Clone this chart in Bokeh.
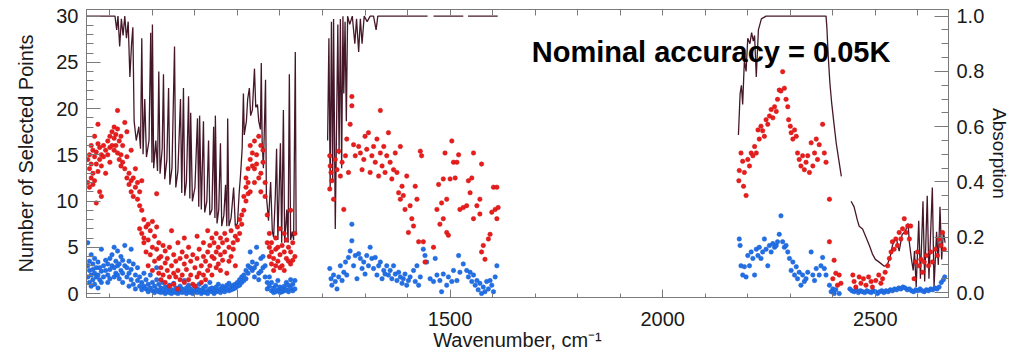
import math
from bokeh.plotting import figure
from bokeh.models import Range1d, LinearAxis, FixedTicker, PrintfTickFormatter, Label
from bokeh.embed import file_html
from bokeh.resources import INLINE

NAN = float("nan")

# ---------------- absorption (right axis, 0..1) ----------------
abs_seg1 = [(646,1.0),(700,1.0),(712,1.0),(716,0.95),(719,1.0),(723,0.89),(727,0.99),(731,0.93),(735,1.0),(739,0.92),
            (743,0.98),(747,0.78),(751,0.90),(754,0.96),(757,0.62),(762,0.55),(768,0.60),(772,0.52),(775,0.92),(778,0.50),
            (782,0.70),(786,0.49),(792,0.55),(796,0.94),(799,0.47),(800,0.97),(803,0.45),(808,0.55),(812,0.44),(815,0.80),
            (818,0.43),(823,0.52),(826,0.79),(829,0.41),(834,0.48),(838,0.74),(841,0.39),(846,0.45),(852,0.89),(855,0.38),
            (860,0.44),(866,0.70),(869,0.36),(873,0.74),(876,0.35),(880,0.40),(885,0.71),(888,0.34),(890,0.65),(894,0.33),
            (900,0.38),(906,0.63),(909,0.31),(911,0.64),(915,0.30),(920,0.62),(923,0.29),(928,0.33),(932,0.55),(935,0.28),
            (940,0.30),(944,0.60),(947,0.27),(948,0.64),(952,0.25),(956,0.30),(960,0.54),(963,0.24),(968,0.28),(972,0.39),
            (975,0.24),(977,0.63),(980,0.24),(985,0.27),(991,0.38),(995,0.24),(1000,0.25),(1004,0.36),(1007,0.42),(1011,0.52),
            (1014,0.72),(1016,0.57),(1021,0.62),(1024,0.70),(1028,0.74),(1031,0.64),(1035,0.66),(1040,0.81),(1043,0.67),(1047,0.68),
            (1050,0.62),(1054,0.59),(1056,0.83),(1058,0.55),(1061,0.45),(1066,0.77),(1068,0.35),(1073,0.26),(1078,0.40),(1082,0.22),
            (1085,0.20),(1089,0.35),(1092,0.52),(1095,0.19),(1101,0.54),(1104,0.18),(1108,0.66),(1111,0.18),(1116,0.30),(1119,0.18),
            (1122,0.79),(1125,0.19),(1129,0.22),(1132,0.19),(1136,0.87),(1138,0.21)]
abs_seg2 = [(1212,0.55),(1215,0.92),(1218,0.38),(1221,0.98),(1224,0.40),(1226,0.99),(1230,0.23),(1233,0.60),(1236,0.97),(1239,0.50),
            (1242,0.99),(1245,0.45),(1248,1.0),(1250,0.72),(1253,0.98),(1256,0.62),(1259,1.0),(1264,0.97),(1270,1.0),(1276,0.90),
            (1280,0.99),(1285,0.87),(1289,0.99),(1293,0.90),(1298,1.0),(1305,0.98),(1312,1.0),(1320,1.0),(1326,0.95),(1330,1.0),
            (1447,1.0),(1454,NAN),(1461,1.0),(1531,1.0),(1536,NAN),(1542,1.0),(1612,1.0)]
abs_seg3 = [(2178,0.57),(2182,0.72),(2185,0.75),(2188,0.68),(2192,0.84),(2196,0.80),(2200,0.92),(2205,0.90),(2209,0.94),(2213,0.91),
            (2216,0.93),(2220,0.78),(2225,0.95),(2232,0.99),(2243,1.0),(2384,1.0),(2386,0.96),(2389,0.86),(2393,0.76),(2397,0.69),
            (2402,0.62),(2408,0.54),(2414,0.48),(2420,0.42),(2432,NAN),(2443,0.33),(2450,0.31),(2458,0.26),(2462,0.24),(2470,0.23),
            (2478,0.20),(2486,0.17),(2493,0.14),(2500,0.12),(2509,0.11),(2521,0.095),(2528,0.10),(2535,0.13),(2540,0.17),(2549,0.20),
            (2553,0.17),(2556,0.15),(2563,0.21),(2570,0.22),(2577,0.25),(2580,0.18),(2585,0.12),(2589,0.08),(2592,0.15),(2596,0.02),
            (2602,0.26),(2606,0.05),(2612,0.33),(2616,0.04),(2622,0.35),(2626,0.05),(2634,0.38),(2638,0.02),(2644,0.22),(2648,0.10),
            (2652,0.31),(2656,0.12),(2660,0.22),(2664,0.18)]

# ---------------- red points: selected points (left axis) ----------------
red_band1 = [(648,[14.5,12.0]),(652,[15.0,11.5,13.5]),(656,[14.0,12.5,16.0]),(660,[15.5,13.0,11.8]),(664,[14.8,12.2,17.0]),
             (668,[15.3,14.0,9.8]),(672,[16.2,13.2,18.3]),(676,[14.5,11.0,15.8]),(680,[15.0,10.5,13.8]),(685,[16.0,14.8]),
             (690,[13.0,15.5]),(695,[16.5,15.0]),(700,[17.0,15.8,14.2]),(705,[16.0,17.5]),(710,[15.5,16.8,18.0]),
             (714,[17.2,16.0]),(718,[19.8,15.2,17.8]),(722,[16.5,14.5]),(726,[15.0,13.8,17.0]),(730,[14.2,16.0]),
             (735,[18.5,13.5]),(740,[17.5,12.5,14.8]),(745,[13.0,11.8]),(750,[12.2,11.0,15.5]),(755,[12.5,10.5]),
             (760,[11.5,13.5]),(765,[10.2,12.0]),(770,[9.5,11.0,7.0]),(775,[9.0,6.5,12.2]),(780,[8.0,6.0,5.5]),
             (785,[7.2,4.5]),(790,[7.5,5.8,3.0]),(795,[6.8,4.2]),(800,[7.8,5.0,2.5]),(805,[6.2,3.5]),(810,[10.8,7.2,4.8]),
             (815,[5.5,2.2,3.8]),(820,[4.0,2.8,1.5]),(825,[5.2,2.0]),(830,[3.3,1.2,4.6]),(835,[2.5,3.8]),(840,[1.8,5.0,0.8]),
             (845,[3.0,6.8]),(850,[2.2,4.2,1.0]),(855,[3.5,1.8]),(860,[5.5,2.5,0.5]),(865,[3.8,1.5]),(870,[2.0,4.5]),
             (875,[3.2,6.0,1.2]),(880,[2.6,4.0]),(885,[1.5,5.0]),(890,[3.5,2.0]),(895,[1.0,4.2]),(900,[2.8,0.8]),
             (905,[3.8,1.8,6.2]),(910,[2.2,4.8]),(915,[1.2,3.0]),(920,[2.0,4.0,5.5]),(925,[3.5,1.5]),(930,[4.5,2.5,6.8]),
             (935,[3.0,5.2]),(940,[2.0,6.0,4.0]),(945,[3.8,5.5]),(950,[2.8,4.5,6.5]),(955,[5.0,3.2]),(960,[4.2,6.0,2.5]),
             (965,[3.6,5.5]),(970,[6.5,4.5]),(975,[2.2,5.8]),(980,[5.0,3.5]),(985,[6.8,4.0]),(990,[4.8,5.5]),(995,[6.2,3.0]),
             (1000,[7.2,5.8]),(1005,[8.0,6.5]),(1010,[8.5,7.5]),(1015,[10.5,9.0]),(1020,[11.5,10.0,12.5]),
             (1025,[12.0,13.5,10.8]),(1030,[14.5,16.0,11.0]),(1035,[13.8,15.2]),(1040,[16.5,13.5,12.0]),(1045,[15.0,14.0]),
             (1050,[12.5,17.0]),(1055,[13.0,16.0,11.0]),(1060,[15.5,14.2]),(1065,[10.5,12.0]),(1070,[8.5,5.5]),
             (1075,[5.0,4.0,6.5]),(1080,[4.5,3.2,5.5]),(1085,[3.8,2.5]),(1090,[4.8,6.0,3.0]),(1095,[3.5,5.0]),
             (1100,[4.2,2.8,7.0]),(1105,[3.0,5.2]),(1110,[4.5,6.5,2.5]),(1115,[3.8,5.8]),(1120,[5.0,3.5]),
             (1125,[3.2,9.0,4.5]),(1130,[5.5,3.6]),(1135,[4.0,6.5])]
red_band2 = [(1217,[14.9,11.3]),(1218,[13.8]),(1220,[13.1]),(1222,[12.2]),(1226,[10.2]),(1230,[14.5]),(1234,[13.4]),
             (1238,[15.4]),(1242,[12.7]),(1246,[14.2]),(1250,[9.1]),(1254,[14.9]),(1257,[16.7]),(1261,[13.1]),(1265,[18.3]),
             (1269,[21.3,20.3]),(1273,[16.1]),(1277,[14.9]),(1285,[15.9]),(1289,[15.2]),(1293,[13.4]),(1297,[14.5]),
             (1300,[17.0]),(1304,[15.6]),(1308,[17.4]),(1312,[13.1]),(1316,[14.9]),(1320,[15.9]),(1324,[14.2]),(1328,[16.7]),
             (1332,[12.7]),(1336,[19.8,15.2]),(1340,[13.8]),(1344,[15.9]),(1347,[13.1]),(1351,[14.9]),(1355,[17.4]),
             (1359,[14.2]),(1363,[12.4]),(1367,[13.4]),(1371,[15.2]),(1375,[13.1]),(1379,[10.9]),(1383,[15.9,10.2]),
             (1387,[11.6]),(1390,[10.6]),(1394,[9.1]),(1398,[12.7]),(1402,[6.6]),(1406,[9.5]),(1410,[8.1]),(1414,[7.3]),
             (1418,[11.6]),(1422,[10.2]),(1426,[5.6]),(1430,[15.4]),(1433,[14.9]),(1437,[5.6]),(1441,[3.4]),(1461,[5.0]),
             (1469,[9.1]),(1473,[11.8]),(1476,[7.5]),(1480,[9.8]),(1484,[12.4,8.1]),(1488,[15.2]),(1492,[10.2,6.6]),
             (1496,[6.3]),(1500,[12.4]),(1504,[16.5]),(1508,[14.2]),(1512,[12.5]),(1516,[14.2]),(1520,[15.0]),(1523,[9.1]),
             (1531,[9.3]),(1539,[9.5]),(1543,[12.2]),(1547,[10.9]),(1551,[12.5]),(1555,[15.2,8.1]),(1563,[9.5]),
             (1570,[8.6,10.2]),(1574,[14.0,4.5]),(1578,[5.2]),(1582,[3.7]),(1590,[5.9]),(1594,[6.4]),(1598,[8.8]),
             (1602,[11.5]),(1606,[9.1]),(1610,[11.5,8.1]),(1613,[9.3])]
red_band3 = [(2179,[12.2]),(2180,[13.3]),(2184,[15.2]),(2188,[14.3]),(2190,[11.6]),(2192,[13.1]),(2196,[10.6]),(2200,[14.5]),
             (2204,[13.8]),(2208,[15.2]),(2212,[14.9]),(2216,[15.9]),(2220,[15.2]),(2224,[17.7]),(2227,[16.7]),(2231,[18.1]),
             (2235,[17.6]),(2239,[17.0]),(2243,[18.8]),(2247,[18.3]),(2251,[19.2]),(2255,[19.9]),(2259,[19.0]),(2263,[20.2]),
             (2267,[19.7]),(2270,[21.0]),(2274,[22.0]),(2278,[21.9]),(2282,[24.0]),(2286,[22.2]),(2290,[21.0]),(2294,[20.2]),
             (2296,[18.8]),(2300,[18.1]),(2302,[17.4]),(2306,[16.7]),(2310,[17.7]),(2314,[17.0]),(2317,[15.2]),(2321,[14.5]),
             (2325,[13.8]),(2329,[14.9]),(2333,[13.4]),(2337,[14.2]),(2341,[14.9]),(2345,[13.1]),(2349,[16.3]),(2353,[13.8]),
             (2357,[15.2]),(2361,[16.7]),(2364,[14.5]),(2368,[16.1]),(2376,[18.3]),(2380,[15.2]),(2384,[14.2]),
             (2392,[10.2,5.6]),(2400,[1.6]),(2403,[3.6]),(2407,[2.2]),(2411,[0.9]),(2415,[2.0]),(2419,[1.1]),
             (2447,[2.0]),(2450,[1.3]),(2454,[0.7]),(2462,[1.8]),(2466,[1.1]),(2472,[1.6]),(2478,[0.9]),(2484,[1.8]),
             (2490,[1.3]),(2493,[0.7]),(2501,[1.4]),(2508,[2.0]),(2513,[1.1]),(2517,[1.6]),(2523,[2.3]),(2529,[3.0]),
             (2533,[3.8]),(2537,[4.5]),(2540,[5.6]),(2544,[4.8]),(2548,[5.9]),(2552,[5.2]),(2556,[6.6]),(2560,[5.9]),
             (2564,[7.0]),(2568,[8.1]),(2572,[6.6]),(2576,[7.3]),(2580,[5.9]),(2583,[7.3]),(2591,[1.6]),(2595,[3.4]),
             (2599,[4.5]),(2603,[3.0]),(2607,[3.7]),(2611,[2.3]),(2615,[3.4]),(2620,[4.1]),(2625,[3.0]),(2630,[4.5]),
             (2634,[3.4]),(2641,[4.8]),(2646,[4.1]),(2650,[5.9]),(2654,[5.2]),(2658,[6.6]),(2662,[4.8])]

# ---------------- blue points: selected points (left axis) ----------------
blue_band1 = [(648,[5.5,3.0,1.8]),(652,[2.5,1.2,3.5]),(656,[2.0,4.2,0.8]),(660,[3.2,1.5,2.6]),(664,[2.2,3.8,1.0]),
              (668,[2.8,1.8]),(672,[3.4,2.0,0.6]),(676,[1.5,2.8]),(680,[2.4,1.2,4.8]),(685,[3.0,1.8]),(690,[2.5,3.6]),
              (695,[2.0,3.2,1.2]),(700,[3.8,2.6,1.6]),(705,[4.2,3.0]),(710,[2.8,5.0,1.8]),(714,[3.5,2.2]),
              (718,[4.6,3.0,2.0]),(722,[3.2,1.6]),(726,[4.0,2.5]),(730,[2.2,3.6,1.2]),(735,[3.0,5.2]),(740,[1.8,2.8]),
              (745,[3.5,2.2,0.8]),(750,[2.6,4.8,1.5]),(755,[3.2,1.0]),(760,[2.0,0.5]),(765,[1.4,2.8]),(770,[0.8,1.8]),
              (775,[1.2,0.4]),(780,[2.2,0.8]),(785,[0.5,1.5]),(790,[1.0,0.2]),(795,[0.6,2.0]),(800,[0.3,1.2]),
              (805,[0.8,0.1]),(810,[0.4,1.5,2.8]),(815,[0.2,1.0]),(820,[0.6,0.1]),(825,[0.3,1.2]),(830,[0.0,0.7]),
              (835,[0.5,0.2]),(840,[0.1,0.9]),(845,[0.4,0.0]),(850,[0.2,1.1]),(855,[0.6,0.1]),(860,[0.0,0.4]),
              (865,[0.8,0.2]),(870,[0.1,0.5]),(875,[0.3,1.4]),(880,[0.0,0.6]),(885,[0.2,0.9]),(890,[0.5,0.1]),
              (895,[0.3,0.0]),(900,[0.8,0.2]),(905,[0.1,0.5]),(910,[0.4,1.0]),(915,[0.0,0.3]),(920,[0.6,0.2]),
              (925,[0.1,0.8]),(930,[0.3,0.0]),(935,[0.5,1.2]),(940,[0.2,0.6]),(945,[0.0,0.4]),(950,[0.7,0.2]),
              (955,[0.3,1.0]),(960,[0.1,0.5]),(965,[0.4,0.8]),(970,[0.2,0.6]),(975,[0.5,0.9]),(980,[0.3,1.1]),
              (985,[0.7,0.4]),(990,[0.9,0.5]),(995,[1.0,0.6]),(1000,[1.2,0.8]),(1005,[1.5,0.9]),(1010,[1.8,1.2]),
              (1015,[2.0,1.4]),(1020,[2.5,1.6]),(1025,[3.0,2.2]),(1030,[2.8,4.5]),(1035,[3.4,2.5]),(1040,[2.8,1.8]),
              (1045,[5.0,3.2]),(1050,[1.5,2.2]),(1055,[3.8,2.4]),(1060,[2.8,4.0]),(1065,[1.8,3.0]),(1070,[1.2,0.5]),
              (1075,[0.8,1.8]),(1080,[0.3,1.2]),(1085,[0.6,0.1]),(1090,[0.9,0.2]),(1095,[0.4,1.4]),(1100,[0.1,0.7]),
              (1105,[0.5,0.2]),(1110,[0.8,0.3]),(1115,[1.2,0.4]),(1120,[0.2,0.9]),(1125,[0.6,1.5]),(1130,[0.3,1.0]),
              (1135,[1.4,0.5])]
blue_band2 = [(1217,[2.7]),(1220,[1.6]),(1222,[0.9]),(1226,[2.0]),(1230,[1.3]),(1234,[0.5]),(1238,[1.8]),(1242,[3.0]),
              (1246,[1.4]),(1250,[2.3]),(1254,[3.4]),(1257,[2.0]),(1261,[3.9]),(1265,[4.6]),(1269,[5.7,7.5]),(1273,[3.0]),
              (1277,[4.1]),(1281,[1.6]),(1285,[4.3]),(1289,[3.8]),(1293,[2.7]),(1297,[3.4]),(1300,[2.1]),(1304,[4.1]),
              (1308,[3.0]),(1312,[5.0]),(1316,[3.8]),(1320,[2.7]),(1324,[3.9]),(1328,[2.0]),(1332,[3.0]),(1336,[3.4]),
              (1340,[1.6]),(1344,[2.5]),(1347,[2.1]),(1351,[3.0]),(1355,[2.0]),(1359,[2.5]),(1363,[1.6]),(1367,[3.0]),
              (1371,[2.1]),(1375,[1.4]),(1379,[2.3]),(1383,[1.8]),(1387,[1.1]),(1390,[1.6]),(1394,[2.1]),(1398,[0.9]),
              (1402,[1.4]),(1406,[1.8]),(1414,[2.5]),(1418,[1.3]),(1422,[3.0]),(1426,[0.9]),(1430,[1.8]),(1437,[4.8]),
              (1441,[4.1]),(1445,[3.4]),(1453,[1.6]),(1461,[1.3]),(1465,[3.8]),(1469,[2.0]),(1476,[1.4]),(1480,[0.2]),
              (1484,[2.1]),(1492,[0.9]),(1496,[1.8]),(1504,[1.3]),(1508,[2.5]),(1516,[1.4]),(1520,[4.1]),(1523,[2.3]),
              (1531,[3.2]),(1539,[2.5]),(1543,[1.8]),(1547,[2.3]),(1551,[1.3]),(1555,[2.0]),(1559,[0.9]),(1563,[1.4]),
              (1566,[0.4]),(1570,[1.1]),(1574,[0.0]),(1578,[0.7]),(1582,[0.2]),(1586,[1.3]),(1590,[0.5]),(1594,[1.4]),
              (1598,[0.9]),(1602,[0.2]),(1606,[1.8]),(1610,[3.0])]
blue_band3 = [(2180,[5.9]),(2182,[5.2]),(2184,[3.0]),(2188,[2.0]),(2192,[2.9]),(2196,[1.8]),(2200,[4.1]),(2204,[3.0]),
              (2208,[4.5]),(2212,[3.8]),(2216,[2.0]),(2220,[4.8]),(2224,[4.1]),(2227,[5.0]),(2231,[3.8]),(2235,[4.5]),
              (2239,[5.9]),(2243,[4.8]),(2247,[3.0]),(2251,[5.2]),(2255,[4.5]),(2259,[5.4]),(2263,[5.0]),(2267,[5.2]),
              (2270,[5.6]),(2274,[6.4]),(2278,[8.4]),(2282,[5.6]),(2286,[5.0]),(2290,[5.2]),(2294,[4.5]),(2298,[3.8]),
              (2302,[2.5]),(2306,[3.4]),(2310,[2.0]),(2314,[2.9]),(2317,[1.6]),(2321,[2.3]),(2325,[0.9]),(2329,[2.0]),
              (2333,[1.3]),(2337,[1.6]),(2341,[2.3]),(2349,[4.5]),(2353,[2.0]),(2357,[1.4]),(2361,[2.7]),(2368,[2.0]),
              (2372,[3.0]),(2376,[3.9]),(2380,[2.7]),(2384,[2.0]),(2392,[0.9]),(2396,[0.2]),(2400,[0.5]),(2403,[0.0]),
              (2407,[0.4]),(2415,[0.0]),(2440,[0.5]),(2445,[0.3]),(2450,[0.2]),(2455,[0.4]),(2460,[0.1]),(2465,[0.3]),
              (2470,[0.2]),(2475,[0.1]),(2480,[0.3]),(2485,[0.2]),(2490,[0.1]),(2495,[0.3]),(2500,[0.2]),(2505,[0.0]),
              (2510,[0.2]),(2515,[0.3]),(2520,[0.1]),(2525,[0.3]),(2530,[0.2]),(2535,[0.4]),(2540,[0.3]),(2545,[0.5]),
              (2550,[0.4]),(2555,[0.6]),(2560,[0.5]),(2565,[0.7]),(2570,[0.6]),(2575,[0.4]),(2580,[0.5]),(2585,[0.3]),
              (2590,[0.2]),(2595,[0.4]),(2600,[0.3]),(2605,[0.5]),(2610,[0.3]),(2615,[0.2]),(2620,[0.4]),(2625,[0.3]),
              (2630,[0.5]),(2635,[0.4]),(2640,[0.6]),(2645,[0.5]),(2650,[0.7]),(2655,[1.2]),(2660,[1.5]),(2663,[1.8])]

x_ticks = [1000, 1500, 2000, 2500]
left_ticks = [0, 5, 10, 15, 20, 25, 30]
right_ticks = [0.0, 0.2, 0.4, 0.6, 0.8, 1.0]
title_text = "Nominal accuracy = 0.05K"


def flatten(bands):
    xs, ys = [], []
    for band in bands:
        for wn, vals in band:
            for v in vals:
                xs.append(wn)
                ys.append(v)
    return xs, ys


red_x, red_y = flatten([red_band1, red_band2, red_band3])
blue_x, blue_y = flatten([blue_band1, blue_band2, blue_band3])

FONT = "Liberation Sans"
AXC = "#7a7a7a"
TXT = "#1a1a1a"

p = figure(width=1013, height=353, output_backend="svg", toolbar_location=None,
           x_range=Range1d(645, 2672), y_range=Range1d(-0.43, 30.72),
           min_border_left=86, min_border_right=65, min_border_top=9, min_border_bottom=55,
           background_fill_color="white", border_fill_color="white")
p.extra_y_ranges = {"abs": Range1d(-0.018, 1.024)}
p.xgrid.visible = False
p.ygrid.visible = False
p.outline_line_color = AXC


def style_axis(ax, major_in, minor_in):
    ax.major_tick_in = major_in
    ax.major_tick_out = 0
    ax.minor_tick_in = minor_in
    ax.minor_tick_out = 0
    ax.axis_line_color = AXC
    ax.major_tick_line_color = AXC
    ax.minor_tick_line_color = AXC
    ax.major_label_text_font = FONT
    ax.major_label_text_font_size = "20px"
    ax.major_label_text_color = TXT
    ax.axis_label_text_font = FONT
    ax.axis_label_text_font_size = "20px"
    ax.axis_label_text_font_style = "normal"
    ax.axis_label_text_color = TXT


# bottom axis
xa = p.xaxis[0]
xa.ticker = FixedTicker(ticks=x_ticks, minor_ticks=list(range(700, 2700, 100)))
xa.axis_label = "Wavenumber, cm\u207b\u00b9"
style_axis(xa, 8, 4)
xa.major_label_standoff = 14
xa.axis_label_standoff = 0

# left axis
ya = p.yaxis[0]
ya.ticker = FixedTicker(ticks=left_ticks, minor_ticks=list(range(0, 31)))
ya.axis_label = "Number of Selected Points"
style_axis(ya, 14, 7)
ya.major_label_standoff = 8
ya.axis_label_standoff = 16

# top axis: tick marks only (no major ticks -> no labels drawn)
top = LinearAxis(ticker=FixedTicker(ticks=[], minor_ticks=list(range(700, 2700, 100))))
style_axis(top, 6, 6)
top.major_label_standoff = 0
p.add_layout(top, "above")

# right axis (absorption)
ra = LinearAxis(y_range_name="abs",
                ticker=FixedTicker(ticks=right_ticks, minor_ticks=[i / 20 for i in range(0, 21)]),
                formatter=PrintfTickFormatter(format="%.1f"))
ra.axis_label = "Absorption"
style_axis(ra, 14, 7)
ra.axis_label_text_font_size = "19px"
ra.major_label_standoff = 8
ra.axis_label_standoff = 2
p.add_layout(ra, "right")

# absorption line
LINE = "#3b0c1d"
for seg in (abs_seg1, abs_seg2, abs_seg3):
    p.line([w for w, a in seg], [a for w, a in seg], y_range_name="abs",
           line_color=LINE, line_width=1.3, line_alpha=0.95)

# points
p.scatter(blue_x, blue_y, size=4.5, fill_color="#2170e6", line_color="#1a5fd0", line_width=0.5)
p.scatter(red_x, red_y, size=4.5, fill_color="#ea1c1c", line_color="#c81414", line_width=0.5)

p.add_layout(Label(x=1692, y=26.1, text=title_text, text_font=FONT, text_font_style="bold",
                   text_font_size="29px", text_color="black", text_baseline="alphabetic",
                   text_align="left"))

open("out.html", "w").write(file_html(p, INLINE))
